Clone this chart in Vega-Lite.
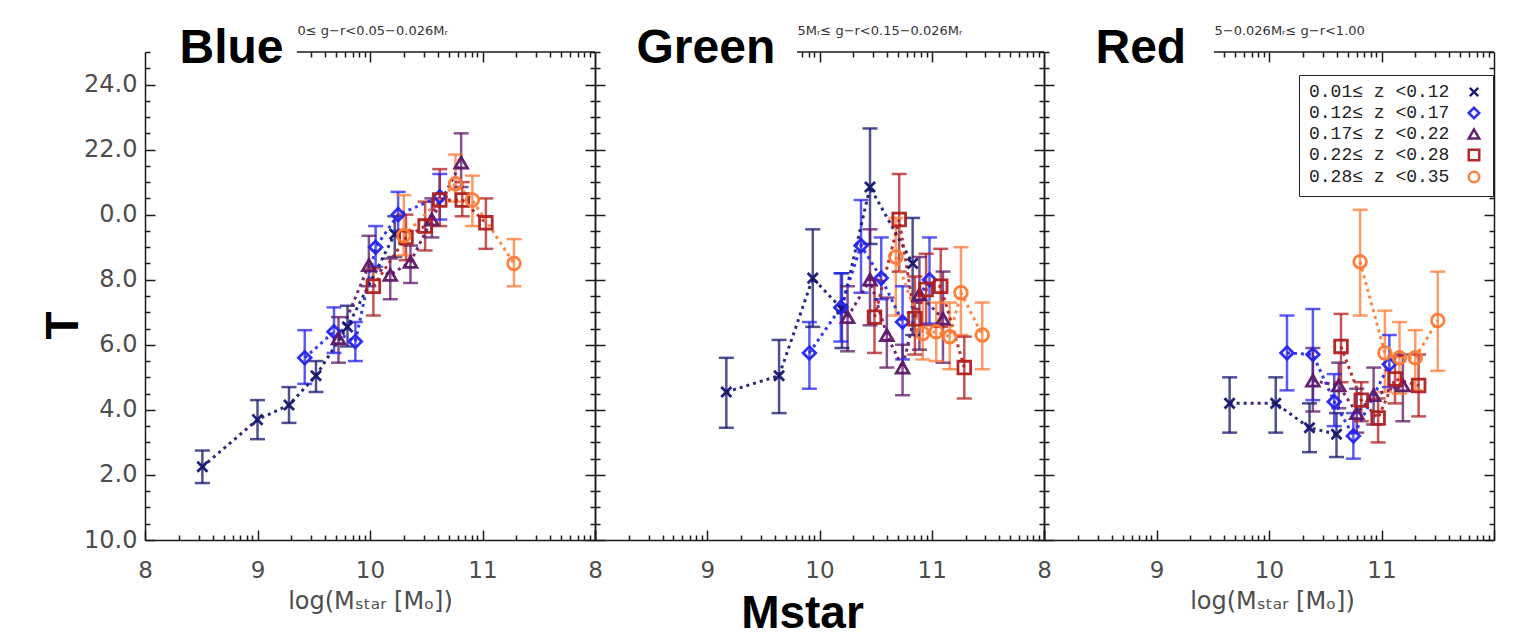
{
"$schema":"https://vega.github.io/schema/vega-lite/v6.json",
"background":"white",
"padding":{"left":40,"top":24,"right":20,"bottom":5},
"spacing":0,
"bounds":"flush",
"resolve":{"legend":{"color":"independent","shape":"independent"}},
"datasets":{"pts":[
{"p":"B","z":"z1","m":8.51,"t":2.25,"lo":1.75,"hi":2.75},
{"p":"B","z":"z1","m":9.0,"t":3.7,"lo":3.1,"hi":4.3},
{"p":"B","z":"z1","m":9.28,"t":4.15,"lo":3.6,"hi":4.7},
{"p":"B","z":"z1","m":9.52,"t":5.05,"lo":4.55,"hi":5.5},
{"p":"B","z":"z1","m":9.8,"t":6.55,"lo":5.95,"hi":7.2},
{"p":"B","z":"z1","m":10.22,"t":9.4,"lo":8.7,"hi":9.95},
{"p":"B","z":"z2","m":9.42,"t":5.6,"lo":4.8,"hi":6.45},
{"p":"B","z":"z2","m":9.68,"t":6.4,"lo":5.75,"hi":7.15},
{"p":"B","z":"z2","m":9.87,"t":6.1,"lo":5.5,"hi":6.7},
{"p":"B","z":"z2","m":10.05,"t":9.0,"lo":8.4,"hi":9.65},
{"p":"B","z":"z2","m":10.25,"t":10.0,"lo":9.5,"hi":10.7},
{"p":"B","z":"z2","m":10.62,"t":10.55,"lo":9.85,"hi":11.25},
{"p":"B","z":"z3","m":9.72,"t":6.2,"lo":5.45,"hi":6.85},
{"p":"B","z":"z3","m":9.99,"t":8.45,"lo":7.8,"hi":9.35},
{"p":"B","z":"z3","m":10.18,"t":8.15,"lo":7.4,"hi":8.65},
{"p":"B","z":"z3","m":10.36,"t":8.55,"lo":7.9,"hi":9.05},
{"p":"B","z":"z3","m":10.55,"t":9.85,"lo":9.3,"hi":10.5},
{"p":"B","z":"z3","m":10.81,"t":11.6,"lo":10.85,"hi":12.5},
{"p":"B","z":"z4","m":10.03,"t":7.8,"lo":6.9,"hi":8.35},
{"p":"B","z":"z4","m":10.32,"t":9.3,"lo":8.6,"hi":10.0},
{"p":"B","z":"z4","m":10.49,"t":9.65,"lo":8.9,"hi":10.4},
{"p":"B","z":"z4","m":10.62,"t":10.45,"lo":9.65,"hi":11.4},
{"p":"B","z":"z4","m":10.82,"t":10.45,"lo":9.95,"hi":11.0},
{"p":"B","z":"z4","m":11.03,"t":9.75,"lo":8.95,"hi":10.5},
{"p":"B","z":"z5","m":10.3,"t":9.35,"lo":8.75,"hi":10.6},
{"p":"B","z":"z5","m":10.76,"t":10.95,"lo":10.4,"hi":11.85},
{"p":"B","z":"z5","m":10.91,"t":10.45,"lo":9.65,"hi":11.2},
{"p":"B","z":"z5","m":11.28,"t":8.5,"lo":7.8,"hi":9.25},
{"p":"G","z":"z1","m":9.17,"t":4.55,"lo":3.45,"hi":5.6},
{"p":"G","z":"z1","m":9.64,"t":5.05,"lo":3.9,"hi":6.15},
{"p":"G","z":"z1","m":9.94,"t":8.05,"lo":6.55,"hi":9.55},
{"p":"G","z":"z1","m":10.2,"t":7.1,"lo":5.9,"hi":8.2},
{"p":"G","z":"z1","m":10.45,"t":10.85,"lo":9.1,"hi":12.65},
{"p":"G","z":"z1","m":10.83,"t":8.5,"lo":6.3,"hi":9.9},
{"p":"G","z":"z2","m":9.91,"t":5.75,"lo":4.65,"hi":6.7},
{"p":"G","z":"z2","m":10.19,"t":7.15,"lo":6.1,"hi":8.2},
{"p":"G","z":"z2","m":10.37,"t":9.05,"lo":7.6,"hi":10.45},
{"p":"G","z":"z2","m":10.55,"t":8.05,"lo":7.4,"hi":9.3},
{"p":"G","z":"z2","m":10.74,"t":6.7,"lo":5.55,"hi":7.8},
{"p":"G","z":"z2","m":10.98,"t":8.0,"lo":6.65,"hi":9.3},
{"p":"G","z":"z3","m":10.25,"t":6.85,"lo":5.8,"hi":7.8},
{"p":"G","z":"z3","m":10.45,"t":8.0,"lo":6.6,"hi":9.55},
{"p":"G","z":"z3","m":10.6,"t":6.3,"lo":5.3,"hi":7.45},
{"p":"G","z":"z3","m":10.74,"t":5.3,"lo":4.45,"hi":6.0},
{"p":"G","z":"z3","m":10.89,"t":7.55,"lo":5.85,"hi":8.7},
{"p":"G","z":"z3","m":11.1,"t":6.8,"lo":5.45,"hi":8.25},
{"p":"G","z":"z4","m":10.49,"t":6.85,"lo":5.75,"hi":8.0},
{"p":"G","z":"z4","m":10.71,"t":9.85,"lo":8.25,"hi":11.25},
{"p":"G","z":"z4","m":10.85,"t":6.8,"lo":5.7,"hi":8.1},
{"p":"G","z":"z4","m":10.95,"t":7.7,"lo":6.6,"hi":8.8},
{"p":"G","z":"z4","m":11.08,"t":7.8,"lo":6.55,"hi":8.95},
{"p":"G","z":"z4","m":11.29,"t":5.3,"lo":4.35,"hi":6.25},
{"p":"G","z":"z5","m":10.68,"t":8.7,"lo":6.9,"hi":9.9},
{"p":"G","z":"z5","m":10.92,"t":6.35,"lo":5.55,"hi":7.5},
{"p":"G","z":"z5","m":11.04,"t":6.4,"lo":5.5,"hi":7.3},
{"p":"G","z":"z5","m":11.16,"t":6.25,"lo":5.25,"hi":7.3},
{"p":"G","z":"z5","m":11.26,"t":7.6,"lo":6.3,"hi":9.0},
{"p":"G","z":"z5","m":11.45,"t":6.3,"lo":5.25,"hi":7.3},
{"p":"R","z":"z1","m":9.65,"t":4.2,"lo":3.3,"hi":5.0},
{"p":"R","z":"z1","m":10.06,"t":4.2,"lo":3.3,"hi":5.0},
{"p":"R","z":"z1","m":10.36,"t":3.45,"lo":2.7,"hi":4.2},
{"p":"R","z":"z1","m":10.6,"t":3.25,"lo":2.55,"hi":3.9},
{"p":"R","z":"z2","m":10.16,"t":5.75,"lo":4.6,"hi":6.9},
{"p":"R","z":"z2","m":10.39,"t":5.7,"lo":4.3,"hi":7.1},
{"p":"R","z":"z2","m":10.58,"t":4.25,"lo":3.5,"hi":5.1},
{"p":"R","z":"z2","m":10.75,"t":3.2,"lo":2.5,"hi":3.9},
{"p":"R","z":"z2","m":11.07,"t":5.4,"lo":4.7,"hi":6.3},
{"p":"R","z":"z3","m":10.39,"t":4.9,"lo":3.95,"hi":5.9},
{"p":"R","z":"z3","m":10.62,"t":4.75,"lo":4.05,"hi":5.45},
{"p":"R","z":"z3","m":10.78,"t":3.9,"lo":3.3,"hi":4.65},
{"p":"R","z":"z3","m":10.93,"t":4.45,"lo":3.55,"hi":5.3},
{"p":"R","z":"z3","m":11.19,"t":4.75,"lo":3.65,"hi":5.7},
{"p":"R","z":"z4","m":10.64,"t":5.95,"lo":4.85,"hi":6.95},
{"p":"R","z":"z4","m":10.82,"t":4.3,"lo":3.65,"hi":4.85},
{"p":"R","z":"z4","m":10.97,"t":3.75,"lo":3.0,"hi":4.35},
{"p":"R","z":"z4","m":11.12,"t":4.95,"lo":4.2,"hi":5.65},
{"p":"R","z":"z4","m":11.33,"t":4.75,"lo":3.8,"hi":5.7},
{"p":"R","z":"z5","m":10.81,"t":8.55,"lo":6.9,"hi":10.15},
{"p":"R","z":"z5","m":11.03,"t":5.75,"lo":4.55,"hi":7.05},
{"p":"R","z":"z5","m":11.16,"t":5.6,"lo":4.5,"hi":6.7},
{"p":"R","z":"z5","m":11.3,"t":5.6,"lo":4.6,"hi":6.45},
{"p":"R","z":"z5","m":11.5,"t":6.75,"lo":5.2,"hi":8.25}
]},
"hconcat":[
{
"width":450,"height":488,
"data":{"name":"pts"},
"resolve":{"axis":{"x":"independent","y":"independent"}},
"layer":[
{"transform":[{"filter":"datum.p=='B'"}],
"mark":{"type":"rule","strokeWidth":2.5,"opacity":0.75},
"encoding":{
"x":{"field":"m","type":"quantitative","scale":{"domain":[8,12],"nice":false,"zero":false},"axis":{"orient":"bottom","values":[8,9,10,11,12],"labelExpr":"datum.value==12?'8':datum.label","tickSize":-10,"labelPadding":29,"domain":true,"title":"log(Mₛₜₐᵣ [Mₒ])","titleX":225,"titleY":68,"titleBaseline":"alphabetic","titleAlign":"center","titleFont":"DejaVu Sans","titleFontSize":24,"titleFontWeight":"normal","titleColor":"#4d4d4d"}},
"y":{"field":"lo","type":"quantitative","scale":{"domain":[0,15],"nice":false,"zero":false},"axis":{"orient":"left","values":[0,2,4,6,8,10,12,14],"labelExpr":"datum.value==0?'10.0':datum.value==10?'0.0':datum.value==12?'22.0':datum.value==14?'24.0':format(datum.value,'.1f')","tickSize":-10,"labelPadding":18,"labelFontSize":24,"domain":true,"title":"T","titleX":-68,"titleY":273,"titleAngle":270,"titleBaseline":"alphabetic","titleAlign":"center","titleFont":"Liberation Sans","titleFontSize":46,"titleFontWeight":"bold","titleColor":"#000"}},
"y2":{"field":"hi"},
"stroke":{"field":"z","type":"nominal","scale":{"domain":["z1","z2","z3","z4","z5"],"range":["#16166e","#2424f0","#5e1868","#b01e1e","#ff7a33"]},"legend":null}
}},
{"transform":[{"filter":"datum.p=='B'"}],
"mark":{"type":"tick","orient":"horizontal","size":15,"thickness":2.5,"opacity":0.75},
"encoding":{
"x":{"field":"m","type":"quantitative","scale":{"domain":[8,12],"nice":false,"zero":false},"axis":{"orient":"bottom","values":[8.301,8.477,8.602,8.699,8.778,8.845,8.903,8.954,9.301,9.477,9.602,9.699,9.778,9.845,9.903,9.954,10.301,10.477,10.602,10.699,10.778,10.845,10.903,10.954,11.301,11.477,11.602,11.699,11.778,11.845,11.903,11.954],"tickSize":-5,"labels":false,"domain":false,"title":null}},
"y":{"field":"lo","type":"quantitative","scale":{"domain":[0,15],"nice":false,"zero":false},"axis":{"orient":"left","values":[0.5,1,1.5,2.5,3,3.5,4.5,5,5.5,6.5,7,7.5,8.5,9,9.5,10.5,11,11.5,12.5,13,13.5,14.5,15],"tickSize":-5,"labels":false,"domain":false,"title":null}},
"fill":{"field":"z","type":"nominal","scale":{"domain":["z1","z2","z3","z4","z5"],"range":["#16166e","#2424f0","#5e1868","#b01e1e","#ff7a33"]},"legend":null}
}},
{"transform":[{"filter":"datum.p=='B'"}],
"mark":{"type":"tick","orient":"horizontal","size":15,"thickness":2.5,"opacity":0.75},
"encoding":{
"x":{"field":"m","type":"quantitative","scale":{"domain":[8,12],"nice":false,"zero":false},"axis":{"orient":"top","values":[10,11],"tickSize":-10,"labels":false,"domain":false,"title":"0≤ g−r<0.05−0.026Mᵣ","titleX":152,"titleY":-22,"titleAlign":"left","titleBaseline":"middle","titleFont":"DejaVu Sans","titleFontSize":13,"titleFontWeight":"normal","titleColor":"#333"}},
"y":{"field":"hi","type":"quantitative","scale":{"domain":[0,15],"nice":false,"zero":false},"axis":{"orient":"right","values":[0,2,4,6,8,10,12,14],"tickSize":-10,"labels":false,"domain":true,"title":null}},
"fill":{"field":"z","type":"nominal","scale":{"domain":["z1","z2","z3","z4","z5"],"range":["#16166e","#2424f0","#5e1868","#b01e1e","#ff7a33"]},"legend":null}
}},
{"transform":[{"filter":"datum.p=='B'"}],
"mark":{"type":"line","strokeWidth":3,"strokeDash":[3,4],"opacity":0.9},
"encoding":{
"x":{"field":"m","type":"quantitative","scale":{"domain":[8,12],"nice":false,"zero":false},"axis":{"orient":"top","values":[9.477,9.602,9.699,9.778,9.845,9.903,9.954,10.301,10.477,10.602,10.699,10.778,10.845,10.903,10.954,11.301,11.477,11.602,11.699,11.778,11.845,11.903,11.954],"tickSize":-5,"labels":false,"domain":false,"title":"Blue","titleX":34,"titleY":10,"titleAlign":"left","titleBaseline":"alphabetic","titleFont":"Liberation Sans","titleFontSize":48,"titleFontWeight":"bold","titleColor":"#000"}},
"y":{"field":"t","type":"quantitative","scale":{"domain":[0,15],"nice":false,"zero":false},"axis":{"orient":"right","values":[0.5,1,1.5,2.5,3,3.5,4.5,5,5.5,6.5,7,7.5,8.5,9,9.5,10.5,11,11.5,12.5,13,13.5,14.5,15],"tickSize":-5,"labels":false,"domain":false,"title":null}},
"stroke":{"field":"z","type":"nominal","scale":{"domain":["z1","z2","z3","z4","z5"],"range":["#16166e","#2424f0","#5e1868","#b01e1e","#ff7a33"]},"legend":null}
}},
{"transform":[{"filter":"datum.p=='B'"}],
"mark":{"type":"point","filled":false,"size":160,"strokeWidth":2.8,"opacity":0.95},
"encoding":{
"x":{"field":"m","type":"quantitative","scale":{"domain":[8,12],"nice":false,"zero":false},"axis":null},
"y":{"field":"t","type":"quantitative","scale":{"domain":[0,15],"nice":false,"zero":false},"axis":null},
"color":{"field":"z","type":"nominal","scale":{"domain":["z1","z2","z3","z4","z5"],"range":["#16166e","#2424f0","#5e1868","#b01e1e","#ff7a33"]},"legend":null},
"shape":{"field":"z","type":"nominal","scale":{"domain":["z1","z2","z3","z4","z5"],"range":["M-0.8,-0.8L0.8,0.8M-0.8,0.8L0.8,-0.8","diamond","triangle-up","square","circle"]},"legend":null}
}},
{"data":{"values":[{}]},
"mark":{"type":"rule","strokeWidth":1.5,"color":"#1a1a1a"},
"encoding":{
"x":{"datum":9.35,"type":"quantitative","scale":{"domain":[8,12],"nice":false,"zero":false},"axis":null},
"x2":{"datum":12},
"y":{"datum":15,"type":"quantitative","scale":{"domain":[0,15],"nice":false,"zero":false},"axis":null}
}}
]
},
{
"width":449,"height":488,
"data":{"name":"pts"},
"resolve":{"axis":{"x":"independent","y":"independent"}},
"layer":[
{"transform":[{"filter":"datum.p=='G'"}],
"mark":{"type":"rule","strokeWidth":2.5,"opacity":0.75},
"encoding":{
"x":{"field":"m","type":"quantitative","scale":{"domain":[8,12],"nice":false,"zero":false},"axis":{"orient":"bottom","values":[8,9,10,11,12],"labelExpr":"datum.value==8?'':datum.value==12?'8':datum.label","tickSize":-10,"labelPadding":29,"domain":true,"title":"Mstar","titleX":207,"titleY":87,"titleBaseline":"alphabetic","titleAlign":"center","titleFont":"Liberation Sans","titleFontSize":46,"titleFontWeight":"bold","titleColor":"#000"}},
"y":{"field":"lo","type":"quantitative","scale":{"domain":[0,15],"nice":false,"zero":false},"axis":{"orient":"left","values":[0,2,4,6,8,10,12,14],"tickSize":-10,"labels":false,"domain":true,"title":null}},
"y2":{"field":"hi"},
"stroke":{"field":"z","type":"nominal","scale":{"domain":["z1","z2","z3","z4","z5"],"range":["#16166e","#2424f0","#5e1868","#b01e1e","#ff7a33"]},"legend":null}
}},
{"transform":[{"filter":"datum.p=='G'"}],
"mark":{"type":"tick","orient":"horizontal","size":15,"thickness":2.5,"opacity":0.75},
"encoding":{
"x":{"field":"m","type":"quantitative","scale":{"domain":[8,12],"nice":false,"zero":false},"axis":{"orient":"bottom","values":[8.301,8.477,8.602,8.699,8.778,8.845,8.903,8.954,9.301,9.477,9.602,9.699,9.778,9.845,9.903,9.954,10.301,10.477,10.602,10.699,10.778,10.845,10.903,10.954,11.301,11.477,11.602,11.699,11.778,11.845,11.903,11.954],"tickSize":-5,"labels":false,"domain":false,"title":null}},
"y":{"field":"lo","type":"quantitative","scale":{"domain":[0,15],"nice":false,"zero":false},"axis":{"orient":"left","values":[0.5,1,1.5,2.5,3,3.5,4.5,5,5.5,6.5,7,7.5,8.5,9,9.5,10.5,11,11.5,12.5,13,13.5,14.5,15],"tickSize":-5,"labels":false,"domain":false,"title":null}},
"fill":{"field":"z","type":"nominal","scale":{"domain":["z1","z2","z3","z4","z5"],"range":["#16166e","#2424f0","#5e1868","#b01e1e","#ff7a33"]},"legend":null}
}},
{"transform":[{"filter":"datum.p=='G'"}],
"mark":{"type":"tick","orient":"horizontal","size":15,"thickness":2.5,"opacity":0.75},
"encoding":{
"x":{"field":"m","type":"quantitative","scale":{"domain":[8,12],"nice":false,"zero":false},"axis":{"orient":"top","values":[10,11],"tickSize":-10,"labels":false,"domain":false,"title":"5Mᵣ≤ g−r<0.15−0.026Mᵣ","titleX":202,"titleY":-22,"titleAlign":"left","titleBaseline":"middle","titleFont":"DejaVu Sans","titleFontSize":13,"titleFontWeight":"normal","titleColor":"#333"}},
"y":{"field":"hi","type":"quantitative","scale":{"domain":[0,15],"nice":false,"zero":false},"axis":{"orient":"right","values":[0,2,4,6,8,10,12,14],"tickSize":-10,"labels":false,"domain":true,"title":null}},
"fill":{"field":"z","type":"nominal","scale":{"domain":["z1","z2","z3","z4","z5"],"range":["#16166e","#2424f0","#5e1868","#b01e1e","#ff7a33"]},"legend":null}
}},
{"transform":[{"filter":"datum.p=='G'"}],
"mark":{"type":"line","strokeWidth":3,"strokeDash":[3,4],"opacity":0.9},
"encoding":{
"x":{"field":"m","type":"quantitative","scale":{"domain":[8,12],"nice":false,"zero":false},"axis":{"orient":"top","values":[9.845,9.903,9.954,10.301,10.477,10.602,10.699,10.778,10.845,10.903,10.954,11.301,11.477,11.602,11.699,11.778,11.845,11.903,11.954],"tickSize":-5,"labels":false,"domain":false,"title":"Green","titleX":41,"titleY":10,"titleAlign":"left","titleBaseline":"alphabetic","titleFont":"Liberation Sans","titleFontSize":48,"titleFontWeight":"bold","titleColor":"#000"}},
"y":{"field":"t","type":"quantitative","scale":{"domain":[0,15],"nice":false,"zero":false},"axis":{"orient":"right","values":[0.5,1,1.5,2.5,3,3.5,4.5,5,5.5,6.5,7,7.5,8.5,9,9.5,10.5,11,11.5,12.5,13,13.5,14.5,15],"tickSize":-5,"labels":false,"domain":false,"title":null}},
"stroke":{"field":"z","type":"nominal","scale":{"domain":["z1","z2","z3","z4","z5"],"range":["#16166e","#2424f0","#5e1868","#b01e1e","#ff7a33"]},"legend":null}
}},
{"transform":[{"filter":"datum.p=='G'"}],
"mark":{"type":"point","filled":false,"size":160,"strokeWidth":2.8,"opacity":0.95},
"encoding":{
"x":{"field":"m","type":"quantitative","scale":{"domain":[8,12],"nice":false,"zero":false},"axis":null},
"y":{"field":"t","type":"quantitative","scale":{"domain":[0,15],"nice":false,"zero":false},"axis":null},
"color":{"field":"z","type":"nominal","scale":{"domain":["z1","z2","z3","z4","z5"],"range":["#16166e","#2424f0","#5e1868","#b01e1e","#ff7a33"]},"legend":null},
"shape":{"field":"z","type":"nominal","scale":{"domain":["z1","z2","z3","z4","z5"],"range":["M-0.8,-0.8L0.8,0.8M-0.8,0.8L0.8,-0.8","diamond","triangle-up","square","circle"]},"legend":null}
}},
{"data":{"values":[{}]},
"mark":{"type":"rule","strokeWidth":1.5,"color":"#1a1a1a"},
"encoding":{
"x":{"datum":9.8,"type":"quantitative","scale":{"domain":[8,12],"nice":false,"zero":false},"axis":null},
"x2":{"datum":12},
"y":{"datum":15,"type":"quantitative","scale":{"domain":[0,15],"nice":false,"zero":false},"axis":null}
}}
]
},
{
"width":450,"height":488,
"data":{"name":"pts"},
"resolve":{"axis":{"x":"independent","y":"independent"}},
"layer":[
{"transform":[{"filter":"datum.p=='R'"}],
"mark":{"type":"rule","strokeWidth":2.5,"opacity":0.75},
"encoding":{
"x":{"field":"m","type":"quantitative","scale":{"domain":[8,12],"nice":false,"zero":false},"axis":{"orient":"bottom","values":[8,9,10,11,12],"labelExpr":"datum.value==8||datum.value==12?'':datum.label","tickSize":-10,"labelPadding":29,"domain":true,"title":"log(Mₛₜₐᵣ [Mₒ])","titleX":228,"titleY":68,"titleBaseline":"alphabetic","titleAlign":"center","titleFont":"DejaVu Sans","titleFontSize":24,"titleFontWeight":"normal","titleColor":"#4d4d4d"}},
"y":{"field":"lo","type":"quantitative","scale":{"domain":[0,15],"nice":false,"zero":false},"axis":{"orient":"left","values":[0,2,4,6,8,10,12,14],"tickSize":-10,"labels":false,"domain":true,"title":null}},
"y2":{"field":"hi"},
"stroke":{"field":"z","type":"nominal","scale":{"domain":["z1","z2","z3","z4","z5"],"range":["#16166e","#2424f0","#5e1868","#b01e1e","#ff7a33"]},"legend":null}
}},
{"transform":[{"filter":"datum.p=='R'"}],
"mark":{"type":"tick","orient":"horizontal","size":15,"thickness":2.5,"opacity":0.75},
"encoding":{
"x":{"field":"m","type":"quantitative","scale":{"domain":[8,12],"nice":false,"zero":false},"axis":{"orient":"bottom","values":[8.301,8.477,8.602,8.699,8.778,8.845,8.903,8.954,9.301,9.477,9.602,9.699,9.778,9.845,9.903,9.954,10.301,10.477,10.602,10.699,10.778,10.845,10.903,10.954,11.301,11.477,11.602,11.699,11.778,11.845,11.903,11.954],"tickSize":-5,"labels":false,"domain":false,"title":null}},
"y":{"field":"lo","type":"quantitative","scale":{"domain":[0,15],"nice":false,"zero":false},"axis":{"orient":"left","values":[0.5,1,1.5,2.5,3,3.5,4.5,5,5.5,6.5,7,7.5,8.5,9,9.5,10.5,11,11.5,12.5,13,13.5,14.5,15],"tickSize":-5,"labels":false,"domain":false,"title":null}},
"fill":{"field":"z","type":"nominal","scale":{"domain":["z1","z2","z3","z4","z5"],"range":["#16166e","#2424f0","#5e1868","#b01e1e","#ff7a33"]},"legend":null}
}},
{"transform":[{"filter":"datum.p=='R'"}],
"mark":{"type":"tick","orient":"horizontal","size":15,"thickness":2.5,"opacity":0.75},
"encoding":{
"x":{"field":"m","type":"quantitative","scale":{"domain":[8,12],"nice":false,"zero":false},"axis":{"orient":"top","values":[10,11],"tickSize":-10,"labels":false,"domain":false,"title":"5−0.026Mᵣ≤ g−r<1.00","titleX":170,"titleY":-22,"titleAlign":"left","titleBaseline":"middle","titleFont":"DejaVu Sans","titleFontSize":13,"titleFontWeight":"normal","titleColor":"#333"}},
"y":{"field":"hi","type":"quantitative","scale":{"domain":[0,15],"nice":false,"zero":false},"axis":{"orient":"right","values":[0,2,4,6,8,10,12,14],"tickSize":-10,"labels":false,"domain":true,"title":null}},
"fill":{"field":"z","type":"nominal","scale":{"domain":["z1","z2","z3","z4","z5"],"range":["#16166e","#2424f0","#5e1868","#b01e1e","#ff7a33"]},"legend":null}
}},
{"transform":[{"filter":"datum.p=='R'"}],
"mark":{"type":"line","strokeWidth":3,"strokeDash":[3,4],"opacity":0.9},
"encoding":{
"x":{"field":"m","type":"quantitative","scale":{"domain":[8,12],"nice":false,"zero":false},"axis":{"orient":"top","values":[9.602,9.699,9.778,9.845,9.903,9.954,10.301,10.477,10.602,10.699,10.778,10.845,10.903,10.954,11.301,11.477,11.602,11.699,11.778,11.845,11.903,11.954],"tickSize":-5,"labels":false,"domain":false,"title":"Red","titleX":51,"titleY":10,"titleAlign":"left","titleBaseline":"alphabetic","titleFont":"Liberation Sans","titleFontSize":48,"titleFontWeight":"bold","titleColor":"#000"}},
"y":{"field":"t","type":"quantitative","scale":{"domain":[0,15],"nice":false,"zero":false},"axis":{"orient":"right","values":[0.5,1,1.5,2.5,3,3.5,4.5,5,5.5,6.5,7,7.5,8.5,9,9.5,10.5,11,11.5,12.5,13,13.5,14.5,15],"tickSize":-5,"labels":false,"domain":false,"title":null}},
"stroke":{"field":"z","type":"nominal","scale":{"domain":["z1","z2","z3","z4","z5"],"range":["#16166e","#2424f0","#5e1868","#b01e1e","#ff7a33"]},"legend":null}
}},
{"transform":[{"filter":"datum.p=='R'"}],
"mark":{"type":"point","filled":false,"size":160,"strokeWidth":2.8,"opacity":0.95},
"encoding":{
"x":{"field":"m","type":"quantitative","scale":{"domain":[8,12],"nice":false,"zero":false},"axis":null},
"y":{"field":"t","type":"quantitative","scale":{"domain":[0,15],"nice":false,"zero":false},"axis":null},
"color":{"field":"z","type":"nominal","scale":{"domain":["z1","z2","z3","z4","z5"],"range":["#16166e","#2424f0","#5e1868","#b01e1e","#ff7a33"]},"legend":{"title":null,"orient":"none","legendX":255,"legendY":23,"labelExpr":"{'z1':'0.01≤ z <0.12','z2':'0.12≤ z <0.17','z3':'0.17≤ z <0.22','z4':'0.22≤ z <0.28','z5':'0.28≤ z <0.35'}[datum.label]","labelFont":"Liberation Mono","labelFontSize":18,"labelColor":"#222","symbolOffset":158,"labelOffset":-174,"symbolSize":110,"symbolStrokeWidth":2.5,"rowPadding":0,"padding":8,"strokeColor":"#222","fillColor":"white"}},
"shape":{"field":"z","type":"nominal","scale":{"domain":["z1","z2","z3","z4","z5"],"range":["M-0.8,-0.8L0.8,0.8M-0.8,0.8L0.8,-0.8","diamond","triangle-up","square","circle"]},"legend":{"title":null,"orient":"none","legendX":255,"legendY":23,"labelExpr":"{'z1':'0.01≤ z <0.12','z2':'0.12≤ z <0.17','z3':'0.17≤ z <0.22','z4':'0.22≤ z <0.28','z5':'0.28≤ z <0.35'}[datum.label]","labelFont":"Liberation Mono","labelFontSize":18,"labelColor":"#222","symbolOffset":158,"labelOffset":-174,"symbolSize":110,"symbolStrokeWidth":2.5,"rowPadding":0,"padding":8,"strokeColor":"#222","fillColor":"white"}}
}},
{"data":{"values":[{}]},
"mark":{"type":"rule","strokeWidth":1.5,"color":"#1a1a1a"},
"encoding":{
"x":{"datum":9.51,"type":"quantitative","scale":{"domain":[8,12],"nice":false,"zero":false},"axis":null},
"x2":{"datum":12},
"y":{"datum":15,"type":"quantitative","scale":{"domain":[0,15],"nice":false,"zero":false},"axis":null}
}}
]
}
],
"config":{
"view":{"stroke":null},
"axis":{"grid":false,"labelFont":"DejaVu Sans","labelFontSize":23,"labelColor":"#4d4d4d","domainColor":"#1a1a1a","tickColor":"#1a1a1a","domainWidth":1.5,"tickWidth":1.5,"labelFlush":false,"labelOverlap":false,"labelBound":false}
}
}
